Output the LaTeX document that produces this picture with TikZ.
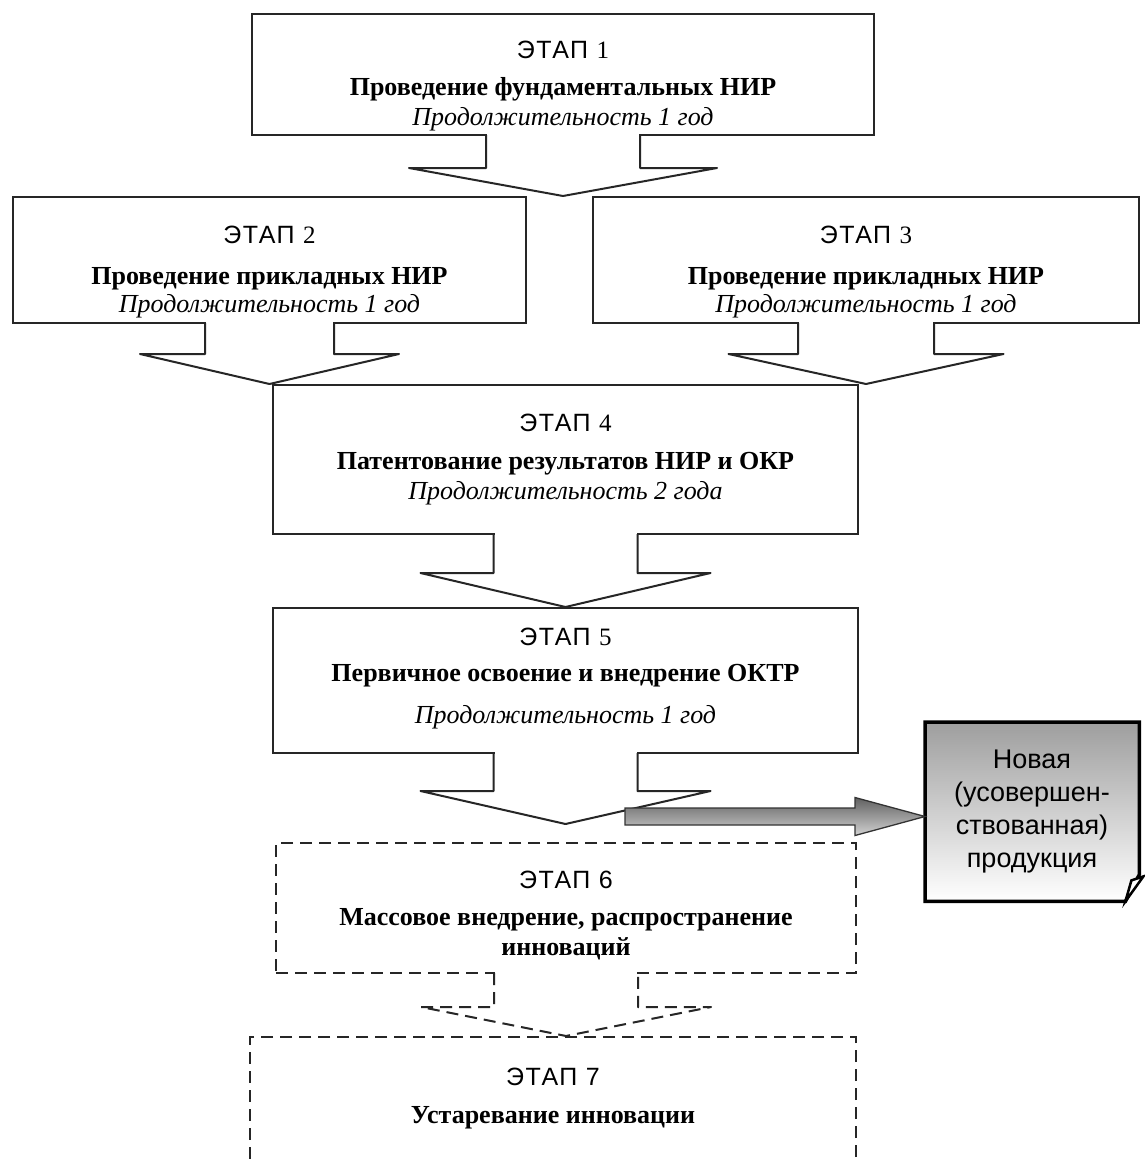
\documentclass[tikz,border=0pt]{standalone}
\usepackage{fontspec}
\setmainfont{Liberation Serif}
\newfontfamily\arialf{Liberation Sans}
\newfontfamily\arialw[LetterSpace=6]{Liberation Sans}
\newfontfamily\timesw[LetterSpace=6]{Liberation Serif}
\usetikzlibrary{calc}
\tikzset{
  stagebox/.style={draw=black!85, line width=2pt, fill=white, inner sep=0pt, rectangle},
  dashbox/.style={stagebox, dash pattern=on 12pt off 7pt},
  solidarrow/.style={draw=black!85, line width=2pt, line join=round},
  dasharrow/.style={solidarrow, dash pattern=on 12pt off 7pt},
  headtext/.style={font=\arialw\fontsize{25}{28}\selectfont, inner sep=0pt, anchor=base},
  titletext/.style={font=\bfseries\fontsize{26}{30}\selectfont, inner sep=0pt, anchor=base},
  durtext/.style={font=\itshape\fontsize{26}{30}\selectfont, inner sep=0pt, anchor=base},
  calltext/.style={font=\arialf\fontsize{27}{30}\selectfont, inner sep=0pt, anchor=base},
  grayarrow/.style={draw=black!80, line width=1.3pt, top color=black!62, bottom color=black!18, line join=miter},
}
% #1 from node, #2 to node, #3 stem half width, #4 wing half width,
% #5 stem length, #6 gap before target, #7 style
\newcommand{\stagearrow}[7]{%
  \coordinate (tip-#1) at (#1.south |- #2.north);
  \fill[white] ($(#1.south)+(-#3+1,-1.6)$) rectangle ($(#1.south)+(#3-1,#5)$);
  \draw[#7] ($(#1.south)+(-#3,-1)$) -- ($(#1.south)+(-#3,#5)$) -- ($(#1.south)+(-#4,#5)$)
    -- ($(tip-#1)+(0,-#6)$) -- ($(#1.south)+(#4,#5)$) -- ($(#1.south)+(#3,#5)$) -- ($(#1.south)+(#3,-1)$);
}
\begin{document}
\begin{tikzpicture}[x=1pt,y=-1pt]
\useasboundingbox (0,0) rectangle (1145,1162);
\fill[white] (0,0) rectangle (1145,1162);
\clip (0,0) rectangle (1145,1162);
% stage boxes
\node[stagebox, minimum width=622pt, minimum height=121pt] (b1) at (563,74.5) {};
\node[stagebox, minimum width=513pt, minimum height=126pt] (b2) at (269.5,260) {};
\node[stagebox, minimum width=546pt, minimum height=126pt] (b3) at (866,260) {};
\node[stagebox, minimum width=585pt, minimum height=149pt] (b4) at (565.5,459.5) {};
\node[stagebox, minimum width=585pt, minimum height=145pt] (b5) at (565.5,680.5) {};
\node[dashbox, minimum width=580pt, minimum height=130pt] (b6) at (566,908) {};
\node[dashbox, minimum width=606pt, minimum height=160pt] (b7) at (553,1117) {};
% block arrows
\stagearrow{b1}{b2}{77}{154}{32}{0}{solidarrow}
\stagearrow{b2}{b4}{64.5}{129.5}{30}{0}{solidarrow}
\stagearrow{b3}{b4}{68}{137.5}{30}{0}{solidarrow}
\stagearrow{b4}{b5}{72}{145}{38}{0}{solidarrow}
\stagearrow{b5}{b6}{72}{145}{37}{18}{solidarrow}
\stagearrow{b6}{b7}{72}{145}{33}{0}{dasharrow}
% callout
\node[minimum width=214pt, minimum height=179pt, inner sep=0pt, anchor=north west] (callout) at (925,722) {};
\path[draw=black, line width=3.5pt, top color=black!38, bottom color=white, line join=miter]
  (callout.north west) -- (callout.north east) -- ($(callout.south east)+(0,-27)$)
  -- ($(callout.south east)+(-14,0)$) -- (callout.south west) -- cycle;
\draw[line width=2.5pt, fill=white, line join=miter] ($(callout.south east)+(-14,0)$)
  -- ($(callout.south east)+(-8,-21)$) -- ($(callout.south east)+(4,-25)$) -- cycle;
% gray arrow
\coordinate (gstart) at (625,816.5);
\coordinate (gtip) at (callout.west |- gstart);
\path[grayarrow] ($(gstart)+(0,-8.5)$) -- ($(gtip)+(-70,-8.5)$) -- ($(gtip)+(-70,-19)$) -- (gtip)
  -- ($(gtip)+(-70,19)$) -- ($(gtip)+(-70,8.5)$) -- ($(gstart)+(0,8.5)$) -- cycle;
% texts
\node[headtext] (h1) at (563,58) {ЭТАП {\timesw 1}};
\node[titletext] (t1) at (563,95) {Проведение фундаментальных НИР};
\node[durtext] (d1) at (563,125) {Продолжительность 1 год};
\node[headtext] (h2) at (269.5,243) {ЭТАП {\timesw 2}};
\node[titletext] (t2) at (269.5,284) {Проведение прикладных НИР};
\node[durtext] (d2) at (269.5,312) {Продолжительность 1 год};
\node[headtext] (h3) at (866,243) {ЭТАП {\timesw 3}};
\node[titletext] (t3) at (866,284) {Проведение прикладных НИР};
\node[durtext] (d3) at (866,312) {Продолжительность 1 год};
\node[headtext] (h4) at (565.5,431) {ЭТАП {\timesw 4}};
\node[titletext] (t4) at (565.5,469) {Патентование результатов НИР и ОКР};
\node[durtext] (d4) at (565.5,499) {Продолжительность 2 года};
\node[headtext] (h5) at (565.5,645) {ЭТАП {\timesw 5}};
\node[titletext] (t5) at (565.5,681) {Первичное освоение и внедрение ОКТР};
\node[durtext] (d5) at (565.5,723) {Продолжительность 1 год};
\node[headtext] (h6) at (566,888) {ЭТАП 6};
\node[titletext] (t6a) at (566,925) {Массовое внедрение, распространение};
\node[titletext] (t6b) at (566,955) {инноваций};
\node[headtext] (h7) at (553,1085) {ЭТАП 7};
\node[titletext] (t7) at (553,1123) {Устаревание инновации};
\node[calltext] (c1) at (1032,768) {Новая};
\node[calltext] (c2) at (1032,801) {(усовершен-};
\node[calltext] (c3) at (1032,834) {ствованная)};
\node[calltext] (c4) at (1032,867) {продукция};
\end{tikzpicture}
\end{document}
